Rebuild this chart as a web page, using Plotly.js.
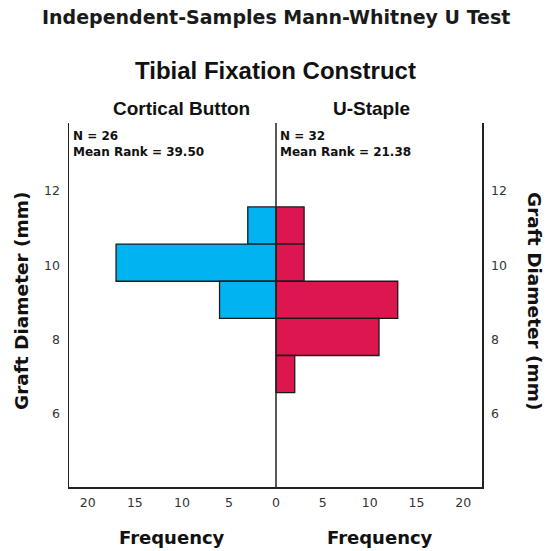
<!DOCTYPE html>
<html>
<head>
<meta charset="utf-8">
<script src="https://cdn.plot.ly/plotly-3.0.1.min.js"></script>
<style>html,body{margin:0;padding:0;background:#fff;}#chart{width:550px;height:551px;}</style>
</head>
<body>
<div id="chart"></div>
<script>
// Data
var binCenters = [11.07, 10.07, 9.07, 8.07, 7.07];   // Graft Diameter (mm)
var corticalButton = [3, 17, 6, 0, 0];                // Frequency
var uStaple = [3, 3, 13, 11, 2];                      // Frequency
var groupNames = ["Cortical Button", "U-Staple"];
var groupN = [26, 32];
var meanRanks = ["39.50", "21.38"];
var yTicks = [6, 8, 10, 12];
var xTicksLeft = [0, 5, 10, 15, 20];
var xTicksRight = [5, 10, 15, 20];

var W = 550, H = 551;
var mL = 69, mR = 68, mT = 123, mB = 64;
var pw = W - mL - mR, ph = H - mT - mB;
function px(x){ return (x - mL) / pw; }
function py(y){ return (H - mB - y) / ph; }
var split = (276 - mL) / pw;

var lineCol = '#222';
var tickFont = {family: 'DejaVu Sans', size: 12.5, color: '#333'};
var boldFont = 'DejaVu Sans';

var traces = [
  {type: 'bar', orientation: 'h', x: corticalButton, y: binCenters, width: 1,
   xaxis: 'x', yaxis: 'y', marker: {color: '#00B4F2', line: {color: '#1a1a1a', width: 1.3}},
   hoverinfo: 'x+y', showlegend: false},
  {type: 'bar', orientation: 'h', x: uStaple, y: binCenters, width: 1,
   xaxis: 'x2', yaxis: 'y2', marker: {color: '#DC164F', line: {color: '#1a1a1a', width: 1.3}},
   hoverinfo: 'x+y', showlegend: false}
];

var yRange = [4.03, 13.83];
var layout = {
  width: W, height: H,
  margin: {l: mL, r: mR, t: mT, b: mB, pad: 0},
  paper_bgcolor: '#fff', plot_bgcolor: '#fff',
  bargap: 0,
  xaxis: {domain: [0, split], range: [22, 0], anchor: 'y', tickvals: xTicksLeft,
          ticktext: xTicksLeft.map(String), ticks: '', showgrid: false, zeroline: false,
          showline: true, linecolor: lineCol, linewidth: 1.5, tickfont: tickFont,
          ticklabelstandoff: 3, fixedrange: true},
  xaxis2: {domain: [split, 1], range: [0, 22], anchor: 'y2', tickvals: xTicksRight,
           ticktext: xTicksRight.map(String), ticks: '', showgrid: false, zeroline: false,
           showline: true, linecolor: lineCol, linewidth: 1.5, tickfont: tickFont,
           ticklabelstandoff: 3, fixedrange: true},
  yaxis: {range: yRange, anchor: 'x', side: 'left', tickvals: yTicks, ticks: '',
          showgrid: false, zeroline: false, showline: true, linecolor: lineCol, linewidth: 1.5,
          tickfont: tickFont, ticklabelstandoff: 5, fixedrange: true},
  yaxis2: {range: yRange, anchor: 'x2', side: 'right', overlaying: 'y', tickvals: yTicks, ticks: '',
           showgrid: false, zeroline: false, showline: true, linecolor: lineCol, linewidth: 1.5,
           tickfont: tickFont, ticklabelstandoff: 5, fixedrange: true},
  shapes: [
    {type: 'line', xref: 'paper', yref: 'paper', x0: split, x1: split, y0: 0, y1: 1,
     line: {color: lineCol, width: 1.5}}
  ],
  annotations: [
    {text: '<b>Independent-Samples Mann-Whitney U Test</b>', xref: 'paper', yref: 'paper',
     x: px(276), y: py(17), showarrow: false, xanchor: 'center', yanchor: 'middle',
     font: {family: boldFont, size: 19, color: '#1a1a1a'}},
    {text: '<b>Tibial Fixation Construct</b>', xref: 'paper', yref: 'paper',
     x: px(275), y: py(70), showarrow: false, xanchor: 'center', yanchor: 'middle',
     font: {family: 'Liberation Sans', size: 24, color: '#111'}},
    {text: '<b>' + groupNames[0] + '</b>', xref: 'paper', yref: 'paper',
     x: px(181), y: py(109), showarrow: false, xanchor: 'center', yanchor: 'middle',
     font: {family: 'Liberation Sans', size: 19, color: '#111'}},
    {text: '<b>' + groupNames[1] + '</b>', xref: 'paper', yref: 'paper',
     x: px(371), y: py(109), showarrow: false, xanchor: 'center', yanchor: 'middle',
     font: {family: 'Liberation Sans', size: 19, color: '#111'}},
    {text: '<b>N = ' + groupN[0] + '<br>Mean Rank = ' + meanRanks[0] + '</b>', xref: 'paper', yref: 'paper',
     x: px(71), y: py(127), showarrow: false, xanchor: 'left', yanchor: 'top', align: 'left',
     font: {family: boldFont, size: 12, color: '#111'}},
    {text: '<b>N = ' + groupN[1] + '<br>Mean Rank = ' + meanRanks[1] + '</b>', xref: 'paper', yref: 'paper',
     x: px(278), y: py(127), showarrow: false, xanchor: 'left', yanchor: 'top', align: 'left',
     font: {family: boldFont, size: 12, color: '#111'}},
    {text: '<b>Graft Diameter (mm)</b>', xref: 'paper', yref: 'paper', textangle: -90,
     x: px(21), y: py(301), showarrow: false, xanchor: 'center', yanchor: 'middle',
     font: {family: boldFont, size: 18.5, color: '#111'}},
    {text: '<b>Graft Diameter (mm)</b>', xref: 'paper', yref: 'paper', textangle: 90,
     x: px(535), y: py(301), showarrow: false, xanchor: 'center', yanchor: 'middle',
     font: {family: boldFont, size: 18.5, color: '#111'}},
    {text: '<b>Frequency</b>', xref: 'paper', yref: 'paper',
     x: px(172), y: py(537), showarrow: false, xanchor: 'center', yanchor: 'middle',
     font: {family: boldFont, size: 18, color: '#111'}},
    {text: '<b>Frequency</b>', xref: 'paper', yref: 'paper',
     x: px(380), y: py(537), showarrow: false, xanchor: 'center', yanchor: 'middle',
     font: {family: boldFont, size: 18, color: '#111'}}
  ]
};

Plotly.newPlot('chart', traces, layout, {displayModeBar: false, staticPlot: true});
</script>
</body>
</html>
